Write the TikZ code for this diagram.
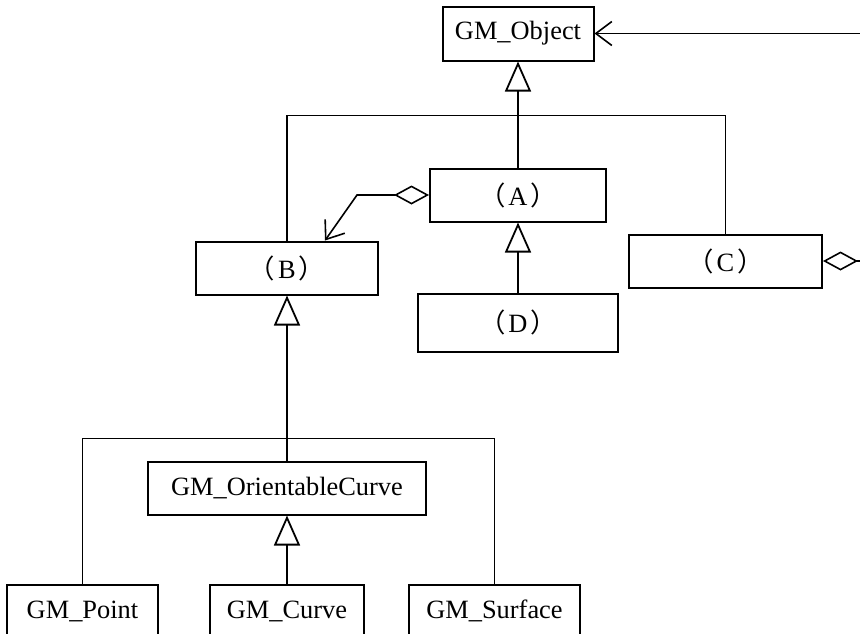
\documentclass[tikz,border=0pt]{standalone}
\usepackage{fontspec}
\setmainfont{Liberation Serif}
\newfontfamily\cjk{Noto Sans CJK SC}
\usetikzlibrary{positioning,arrows.meta}

\newcommand{\sulut}[1]{{\cjk （}\kern1.5pt#1\kern1.5pt{\cjk ）}}

\begin{document}
\begin{tikzpicture} [auto, node distance=1cm, line width=0.65pt,
                    luokka/.style={rectangle,draw,line width=1pt,minimum height=26.5pt,inner sep=0pt,font=\fontsize{13.2pt}{15pt}\selectfont},
                    periytyy/.style={-{Triangle[open,length=15pt,width=13pt]},line width=0.9pt},
                    kooste/.style={{Diamond[open,length=17.5pt,width=9.5pt]}-{Straight Barb[length=8pt,width=12pt]},line width=0.8pt}]

\useasboundingbox (-259pt,-219pt) rectangle (171pt,97.5pt);

\node[luokka, minimum width=88pt] (A) at (0,0) {\sulut{A}};
\node[luokka, minimum width=75.5pt, minimum height=27pt] (OBJ) [above=53pt of A] {GM\_Object};
\node[luokka, minimum width=91pt] (B) [below left=9pt and 25pt of A] {\sulut{B}};
\node[luokka, minimum width=96.5pt] (C) [below right=5.5pt and 10.5pt of A] {\sulut{C}};
\node[luokka, minimum width=100pt, minimum height=29pt] (D) [below=35pt of A] {\sulut{D}};
\node[luokka, minimum width=138.5pt] (OC) [below=82.5pt of B] {GM\_OrientableCurve};
\node[luokka, minimum width=77pt] (CU) [below=34pt of OC] {GM\_Curve};
\node[luokka, minimum width=75.5pt] (PT) [left=25pt of CU] {GM\_Point};
\node[luokka, minimum width=85.5pt] (SU) [right=21.5pt of CU] {GM\_Surface};

\path (OBJ.south) ++(0,-27pt) coordinate (J1);
\path (OC.north) ++(0,11pt) coordinate (J2);
\path (A.west) ++(-36pt,0) coordinate (K);
\path (OBJ.east) ++(138pt,0) coordinate (E);

 \path
    (A) edge[periytyy] (OBJ)
    (D) edge[periytyy] (A)
    (OC) edge[periytyy] (B)
    (CU) edge[periytyy] (OC);

 \draw (B.north) |- (J1) -| (C.north);
 \draw (PT.north) |- (J2) -| (SU.north);
 \draw[kooste] (A.west) -- (K) -- ([xshift=19pt]B.north);
 \draw[kooste] (C.east) -| (E) -- (OBJ.east);
\end{tikzpicture}
\end{document}
